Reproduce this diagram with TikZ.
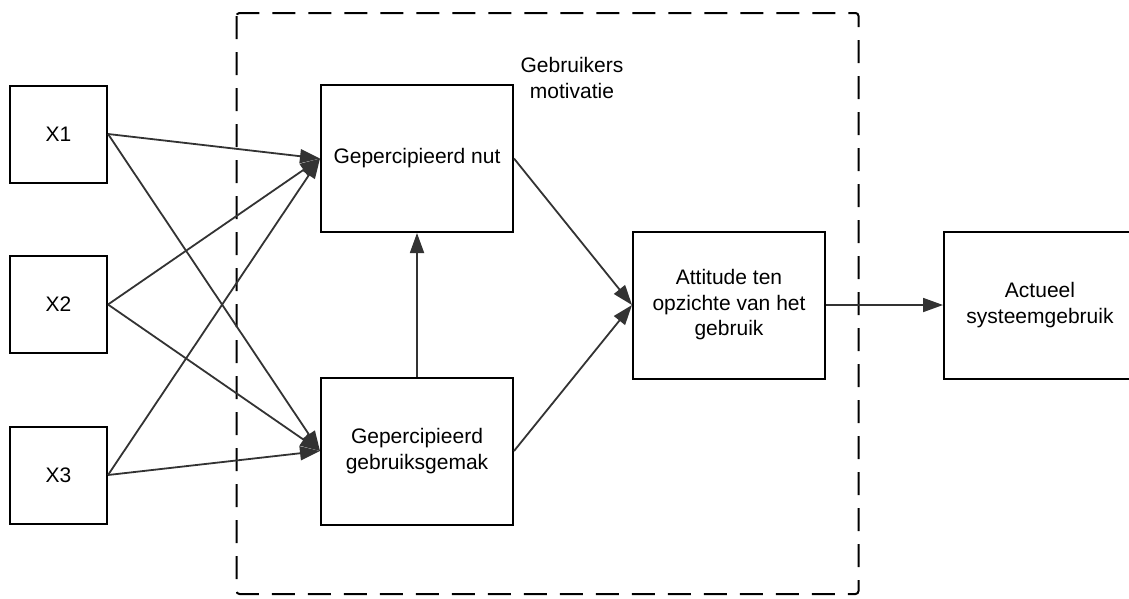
\documentclass[tikz,border=0pt]{standalone}
\usepackage{fontspec}
\setmainfont{Liberation Sans}
\usetikzlibrary{arrows.meta}
\definecolor{conncol}{HTML}{333333}
\begin{document}
\begin{tikzpicture}[x=1pt,y=-1pt,
  box/.style={draw=black, line width=2pt, align=center, inner sep=0pt,
    font=\fontsize{21}{25.5}\selectfont},
  smallbox/.style={box, minimum width=97pt, minimum height=97pt},
  bigbox/.style={box, minimum width=192pt, minimum height=147pt},
  conn/.style={draw=conncol, line width=1.8pt, -{Triangle[length=20pt,width=14pt]}},
  group/.style={draw=black, line width=2pt, dash pattern=on 23pt off 13pt, rounded corners=3pt},
  lbl/.style={align=center, inner sep=0pt, font=\fontsize{21}{25.5}\selectfont}]
\useasboundingbox (0,0) rectangle (1129,598);
\clip (0,0) rectangle (1129,598);
\fill[white] (0,0) rectangle (1129,598);

\draw[group] (236.5,13) rectangle (858.5,594);
\node[lbl] (motiv) at (572,78) {Gebruikers\\motivatie};

\node[smallbox] (x1) at (58.5,134) {X1};
\node[smallbox] (x2) at (58.5,304.5) {X2};
\node[smallbox] (x3) at (58.5,475) {X3};

\node[bigbox] (nut) at (417,158.5) {Gepercipieerd nut};
\node[bigbox] (gemak) at (417,451) {Gepercipieerd\\gebruiksgemak};
\node[bigbox] (att) at (729,305) {Attitude ten\\opzichte van het\\gebruik};
\node[bigbox] (act) at (1040,305) {Actueel\\systeemgebruik};

\draw[conn] (x1.east) -- (nut.west);
\draw[conn] (x1.east) -- (gemak.west);
\draw[conn] (x2.east) -- (nut.west);
\draw[conn] (x2.east) -- (gemak.west);
\draw[conn] (x3.east) -- (nut.west);
\draw[conn] (x3.east) -- (gemak.west);
\draw[conn] (gemak.north) -- (nut.south);
\draw[conn] (nut.east) -- (att.west);
\draw[conn] (gemak.east) -- (att.west);
\draw[conn] (att.east) -- (act.west);
\end{tikzpicture}
\end{document}
